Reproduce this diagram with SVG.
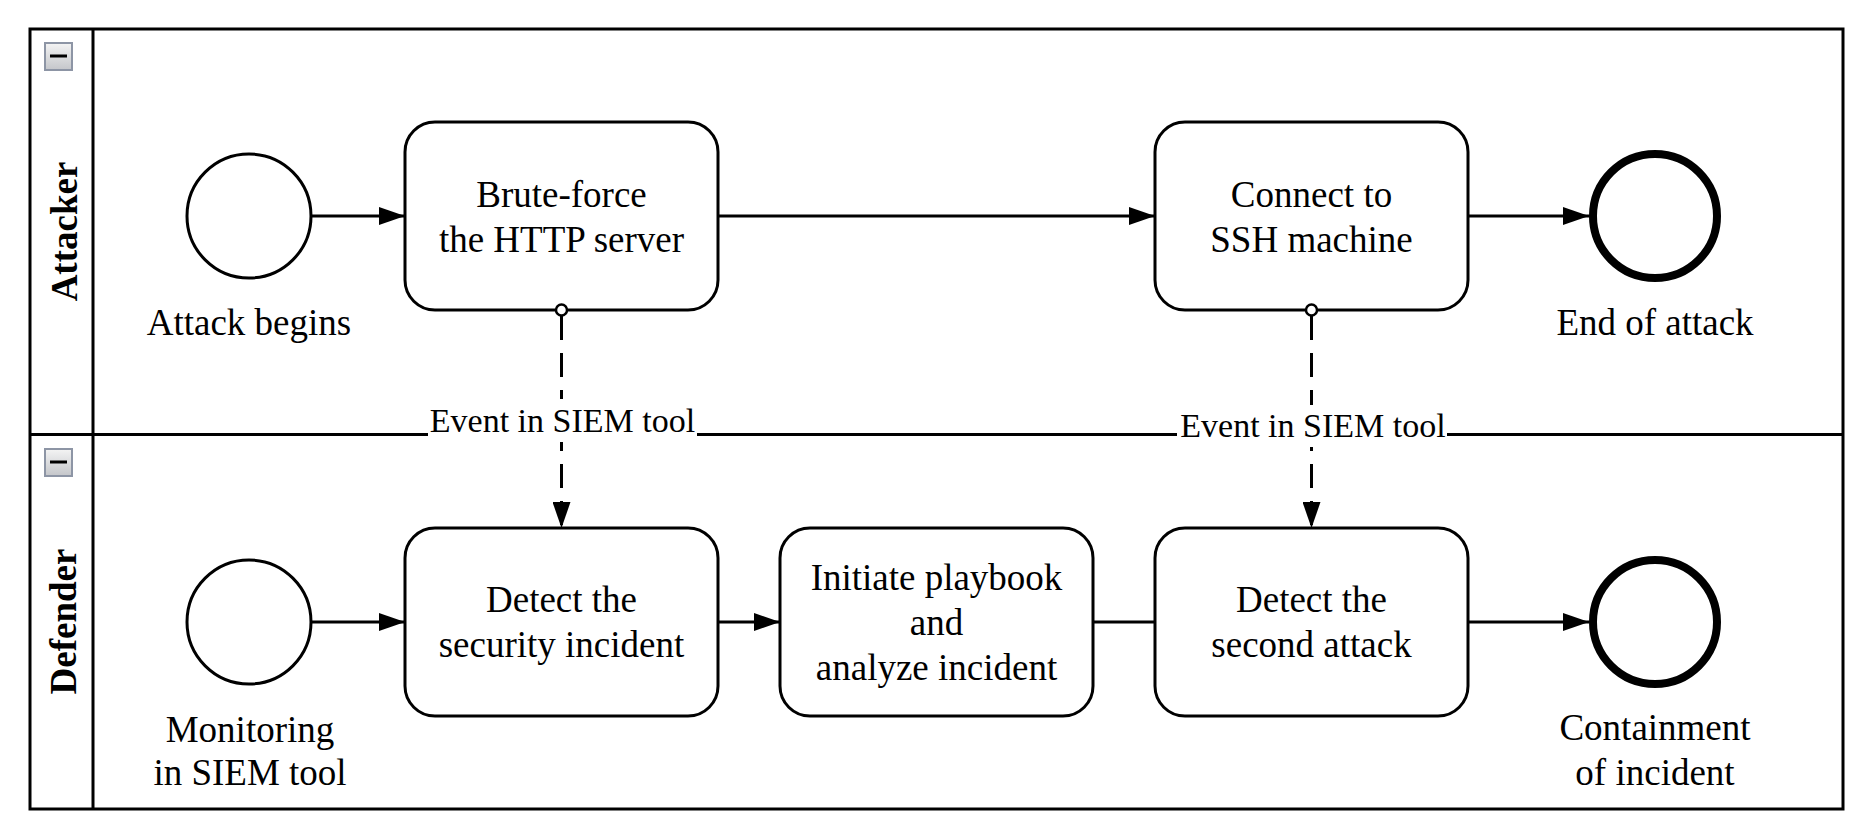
<svg xmlns="http://www.w3.org/2000/svg" width="1866" height="833" viewBox="0 0 1866 833">
<defs>
<marker id="arrow" markerUnits="userSpaceOnUse" markerWidth="26" markerHeight="18" refX="26" refY="9" orient="auto">
<path d="M0,0 L26,9 L0,18 z" fill="#000"/>
</marker>
<linearGradient id="btn" x1="0" y1="0" x2="0" y2="1">
<stop offset="0" stop-color="#f4f4f4"/>
<stop offset="1" stop-color="#c4c6ca"/>
</linearGradient>
</defs>
<style>
.lane{fill:none;stroke:#000;stroke-width:3}
.task{fill:#fff;stroke:#000;stroke-width:3}
.start{fill:#fff;stroke:#000;stroke-width:3}
.end{fill:#fff;stroke:#000;stroke-width:8}
.t{font-family:"Liberation Serif","Times New Roman",serif;font-size:37px;fill:#000;text-anchor:middle}
.lbl{font-family:"Liberation Serif","Times New Roman",serif;font-size:34px;fill:#000;text-anchor:middle}
.lt{font-family:"Liberation Serif","Times New Roman",serif;font-size:37px;font-weight:bold;fill:#000;text-anchor:middle}
.flow{fill:none;stroke:#000;stroke-width:3}
.msg{fill:none;stroke:#000;stroke-width:3;stroke-dasharray:24 13}
.btn{fill:url(#btn);stroke:#8d95a5;stroke-width:2}
</style>
<rect width="1866" height="833" fill="#fff"/>
<g id="pool">
<rect class="lane" x="30" y="29" width="1813" height="780"/>
<line class="lane" x1="93" y1="29" x2="93" y2="809"/>
<line class="lane" x1="30" y1="434.5" x2="1843" y2="434.5"/>
</g>
<g id="lane-attacker">
<rect class="btn" x="45" y="43" width="27" height="27"/>
<line x1="50" y1="56" x2="67" y2="56" stroke="#000" stroke-width="3"/>
<text class="lt" transform="translate(77,231.5) rotate(-90)">Attacker</text>
</g>
<g id="lane-defender">
<rect class="btn" x="45" y="449" width="27" height="27"/>
<line x1="50" y1="462" x2="67" y2="462" stroke="#000" stroke-width="3"/>
<text class="lt" transform="translate(76,621.5) rotate(-90)">Defender</text>
</g>
<g id="attack-begins">
<circle class="start" cx="249" cy="216" r="62"/>
<text class="t" x="249" y="335">Attack begins</text>
</g>
<g id="brute-force">
<rect class="task" x="405" y="122" width="313" height="188" rx="30"/>
<text class="t" x="561.5" y="207">Brute-force</text>
<text class="t" x="561.5" y="252">the HTTP server</text>
</g>
<g id="connect-ssh">
<rect class="task" x="1155" y="122" width="313" height="188" rx="30"/>
<text class="t" x="1311.5" y="207">Connect to</text>
<text class="t" x="1311.5" y="252">SSH machine</text>
</g>
<g id="end-of-attack">
<circle class="end" cx="1655" cy="216" r="62"/>
<text class="t" x="1655" y="335">End of attack</text>
</g>
<g id="monitoring">
<circle class="start" cx="249" cy="622" r="62"/>
<text class="t" x="250" y="742">Monitoring</text>
<text class="t" x="250" y="785">in SIEM tool</text>
</g>
<g id="detect-incident">
<rect class="task" x="405" y="528" width="313" height="188" rx="30"/>
<text class="t" x="561.5" y="612">Detect the</text>
<text class="t" x="561.5" y="657">security incident</text>
</g>
<g id="initiate-playbook">
<rect class="task" x="780" y="528" width="313" height="188" rx="30"/>
<text class="t" x="936.5" y="590">Initiate playbook</text>
<text class="t" x="936.5" y="635">and</text>
<text class="t" x="936.5" y="680">analyze incident</text>
</g>
<g id="detect-second">
<rect class="task" x="1155" y="528" width="313" height="188" rx="30"/>
<text class="t" x="1311.5" y="612">Detect the</text>
<text class="t" x="1311.5" y="657">second attack</text>
</g>
<g id="containment">
<circle class="end" cx="1655" cy="622" r="62"/>
<text class="t" x="1655" y="740">Containment</text>
<text class="t" x="1655" y="785">of incident</text>
</g>
<g id="connectors">
<line class="flow" x1="311" y1="216" x2="405" y2="216" marker-end="url(#arrow)"/>
<line class="flow" x1="718" y1="216" x2="1155" y2="216" marker-end="url(#arrow)"/>
<line class="flow" x1="1468" y1="216" x2="1589" y2="216" marker-end="url(#arrow)"/>
<line class="flow" x1="311" y1="622" x2="405" y2="622" marker-end="url(#arrow)"/>
<line class="flow" x1="718" y1="622" x2="780" y2="622" marker-end="url(#arrow)"/>
<line class="flow" x1="1093" y1="622" x2="1155" y2="622"/>
<line class="flow" x1="1468" y1="622" x2="1589" y2="622" marker-end="url(#arrow)"/>
<line class="msg" x1="561.5" y1="316" x2="561.5" y2="528" marker-end="url(#arrow)"/>
<circle cx="561.5" cy="310" r="5.5" fill="#fff" stroke="#000" stroke-width="2.5"/>
<line class="msg" x1="1311.5" y1="316" x2="1311.5" y2="528" marker-end="url(#arrow)"/>
<circle cx="1311.5" cy="310" r="5.5" fill="#fff" stroke="#000" stroke-width="2.5"/>
<rect x="428" y="399" width="269" height="43" fill="#fff"/>
<text class="lbl" x="562.5" y="432">Event in SIEM tool</text>
<rect x="1177" y="405" width="270" height="42" fill="#fff"/>
<text class="lbl" x="1313" y="437">Event in SIEM tool</text>
</g>
</svg>
